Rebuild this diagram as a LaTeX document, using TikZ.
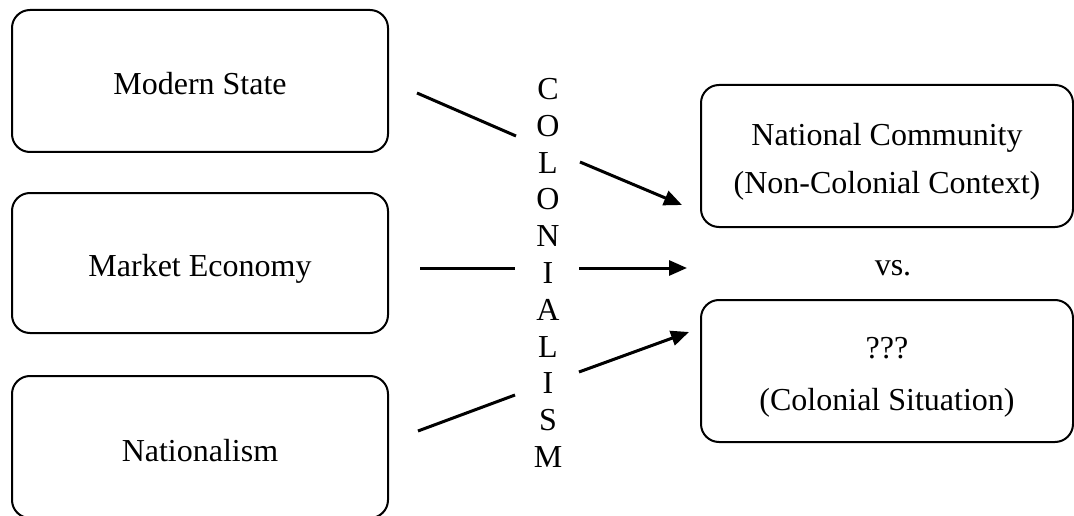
\documentclass[tikz,border=0pt]{standalone}
\usepackage{fontspec}
\setmainfont{Liberation Serif}
\usetikzlibrary{arrows.meta}
\newcommand{\upstrut}[1]{\rule{0pt}{#1pt}}
\begin{document}
\begin{tikzpicture}[x=1pt,y=-1pt,
  box/.style={draw, line width=2pt, rounded corners=18pt, align=center,
    font=\fontsize{32}{48}\selectfont, inner sep=0pt},
  leftbox/.style={box, minimum width=376pt},
  rightbox/.style={box, minimum width=372pt},
  conn/.style={line width=3pt},
  arr/.style={conn, -{Triangle[length=18pt,width=15pt]}},
  lbl/.style={font=\fontsize{32}{36.8}\selectfont, inner sep=0pt, align=center}]
\useasboundingbox (0,0) rectangle (1074,516);
% left boxes
\node[leftbox, minimum height=142pt] (ms) at (200,81) {\upstrut{28}Modern State};
\node[leftbox, minimum height=140pt] (me) at (200,263) {\upstrut{34}Market Economy};
\node[leftbox, minimum height=142pt] (na) at (200,447) {\upstrut{30}Nationalism};
% right boxes
\node[rightbox, minimum height=142pt] (nc) at (887,156) {\upstrut{34}National Community\\(Non-Colonial Context)};
\node[rightbox, minimum height=142pt] (cs) at (887,371) {\upstrut{34}???\\[4pt](Colonial Situation)};
% labels
\node[lbl] (col) at (548,273) {C\\O\\L\\O\\N\\I\\A\\L\\I\\S\\M};
\node[lbl, font=\fontsize{32}{36}\selectfont] (vs) at (893,268) {vs.};
% connector points
\coordinate (s1) at (417,93);  \coordinate (m1) at (516,136);
\coordinate (n1) at (580,162); \coordinate (e1) at (682,205);
\coordinate (s2) at (420,268); \coordinate (m2) at (515,268);
\coordinate (n2) at (579,268); \coordinate (e2) at (687,268);
\coordinate (s3) at (418,431); \coordinate (m3) at (515,395);
\coordinate (n3) at (579,372); \coordinate (e3) at (689,332);
\draw[conn] (s1) -- (m1);
\draw[arr] (n1) -- (e1);
\draw[conn] (s2) -- (m2);
\draw[arr] (n2) -- (e2);
\draw[conn] (s3) -- (m3);
\draw[arr] (n3) -- (e3);
\end{tikzpicture}
\end{document}
